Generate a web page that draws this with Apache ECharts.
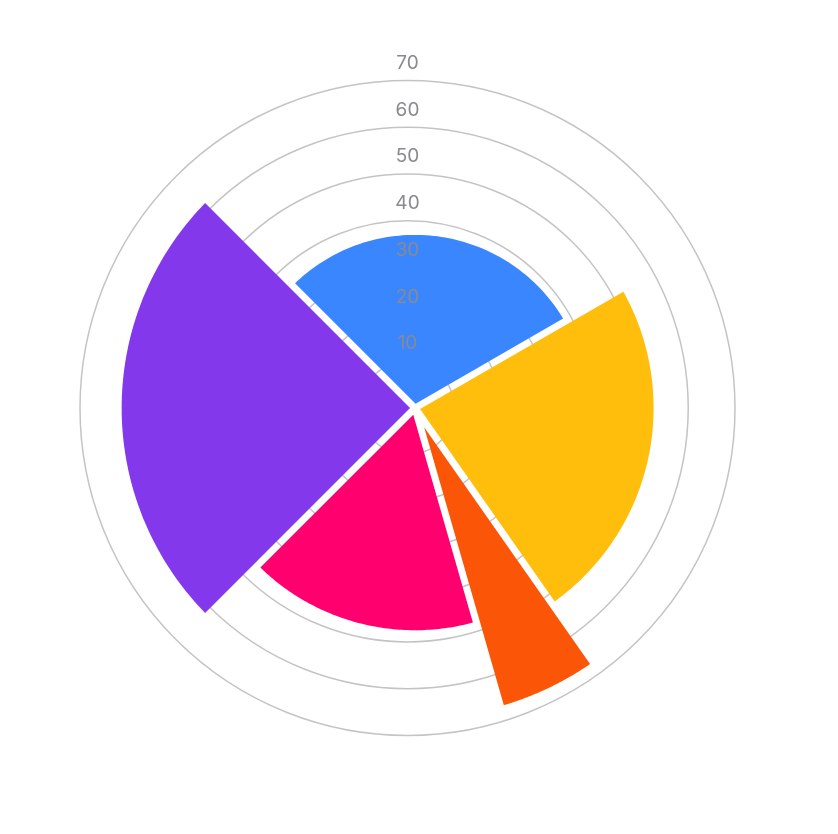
<!DOCTYPE html>
<html>
<head>
<meta charset="utf-8">
<script src="https://cdn.jsdelivr.net/npm/echarts@6/dist/echarts.min.js"></script>
<style>
html,body{margin:0;padding:0;background:#fff;}
#chart{width:838px;height:834px;}
</style>
</head>
<body>
<div id="chart"></div>
<script>
// ---- data ----
var sliceNames = ['Blue', 'Yellow', 'Orange', 'Pink', 'Purple'];
var angleSpans = [105, 85, 19, 61, 90];        // angular extent of each sector (degrees)
var sliceValues = [37, 51, 66.3, 47.5, 62.7];  // radial value of each sector
var sliceColors = ['#3A86FF', '#FFBE0B', '#FB5607', '#FF006E', '#8338EC'];
var startOffset = -45;                          // first sector starts at -45° (clockwise from top)
var radiusTicks = [0, 10, 20, 30, 40, 50, 60, 70];

var sectorData = [];
var acc = startOffset;
for (var i = 0; i < angleSpans.length; i++) {
  sectorData.push({ name: sliceNames[i], value: [acc, acc + angleSpans[i], sliceValues[i]] });
  acc += angleSpans[i];
}

var chart = echarts.init(document.getElementById('chart'));
var R = 327.5;
var hiddenAngle = function (idx, sa, mn, mx) {
  return {
    polarIndex: idx, type: 'value', min: mn, max: mx, startAngle: sa, clockwise: true,
    axisLine: { show: false }, axisTick: { show: false }, axisLabel: { show: false },
    splitLine: { show: false }, splitArea: { show: false }
  };
};

var option = {
  animation: false,
  backgroundColor: '#ffffff',
  polar: [
    { center: [407.5, 408], radius: R },   // rings
    { center: [415, 408], radius: R },     // sectors
    { center: [407.5, 390.5], radius: R }  // tick labels
  ],
  angleAxis: [hiddenAngle(0, 90, 0, 360), hiddenAngle(1, 135, -45, 315), hiddenAngle(2, 90, 0, 360)],
  radiusAxis: [
    {
      polarIndex: 0, type: 'value', min: radiusTicks[0], max: radiusTicks[radiusTicks.length - 1], interval: 10,
      axisLine: { show: false }, axisTick: { show: false }, axisLabel: { show: false },
      splitLine: { show: true, lineStyle: { color: '#c4c4c4', width: 1.5 } }, z: 0
    },
    {
      polarIndex: 1, type: 'value', min: radiusTicks[0], max: radiusTicks[radiusTicks.length - 1], interval: 10,
      axisLine: { show: false }, axisTick: { show: false }, axisLabel: { show: false },
      splitLine: { show: false }
    },
    {
      polarIndex: 2, type: 'value', min: radiusTicks[0], max: radiusTicks[radiusTicks.length - 1], interval: 10,
      axisLine: { show: false }, axisTick: { show: false }, splitLine: { show: false },
      axisLabel: {
        show: true, margin: 0, align: 'center', verticalAlign: 'middle',
        color: '#8a8a8e', fontSize: 19, fontFamily: 'Inter',
        showMinLabel: false, showMaxLabel: true,
        formatter: function (v) { return v === 0 ? '' : String(v); }
      },
      z: 10
    }
  ],
  series: [{
    type: 'custom',
    coordinateSystem: 'polar',
    polarIndex: 1,
    encode: { angle: 0, radius: 2 },
    data: sectorData,
    renderItem: function (params, api) {
      var a0 = api.value(0), a1 = api.value(1), r = api.value(2);
      var c = api.coord([0, a0]);
      var pr = api.coord([r, a0]);
      var Rp = Math.hypot(pr[0] - c[0], pr[1] - c[1]);
      var d = 3.5;
      var da = Math.asin(d / Rp) * 180 / Math.PI;
      var pts = [];
      var n = 80;
      for (var k = 0; k <= n; k++) {
        var a = a0 + da + (a1 - a0 - 2 * da) * k / n;
        pts.push(api.coord([r, a]));
      }
      var mid = (a0 + a1) / 2;
      var half = (a1 - a0) / 2 * Math.PI / 180;
      var pm = api.coord([r, mid]);
      var len = Math.hypot(pm[0] - c[0], pm[1] - c[1]);
      var off = d / Math.sin(half);
      pts.push([c[0] + (pm[0] - c[0]) / len * off, c[1] + (pm[1] - c[1]) / len * off]);
      return {
        type: 'polygon',
        shape: { points: pts },
        style: { fill: sliceColors[params.dataIndex] }
      };
    },
    z: 2
  }]
};
chart.setOption(option);
</script>
</body>
</html>
